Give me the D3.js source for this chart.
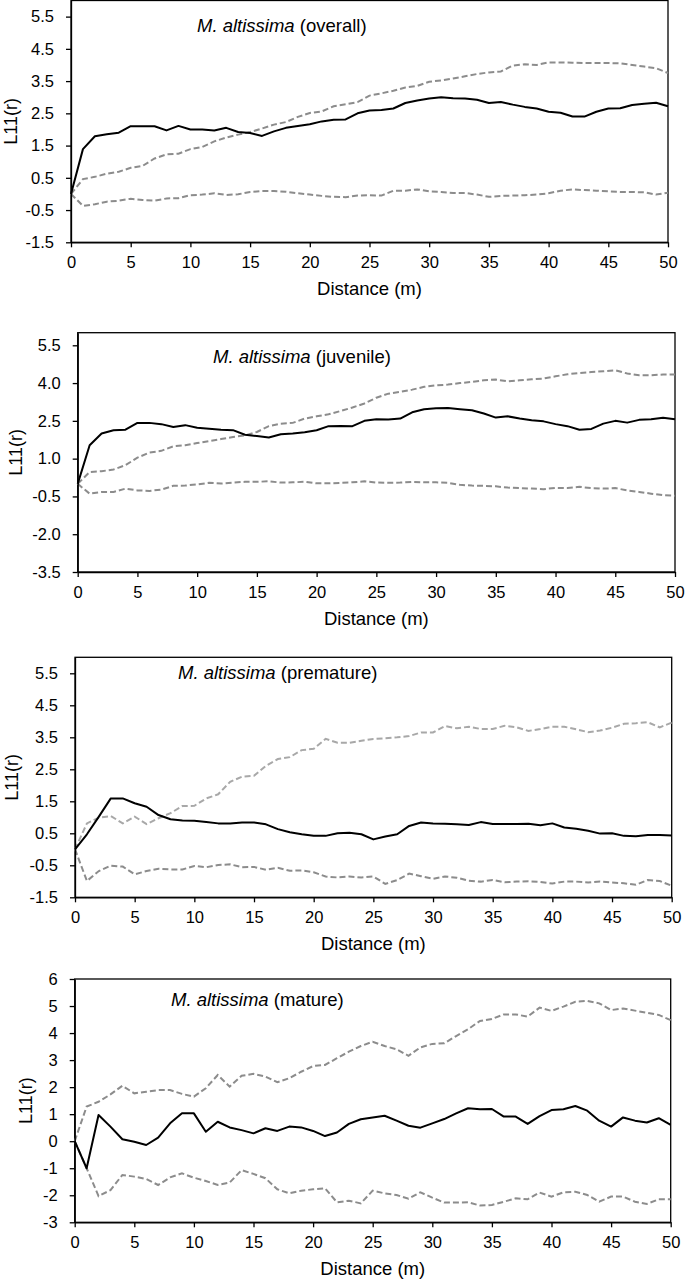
<!DOCTYPE html>
<html>
<head>
<meta charset="utf-8">
<script src="https://cdn.jsdelivr.net/npm/d3@7"></script>
<style>
  body { margin: 0; background: #fff; }
  svg { display: block; font-family: "Liberation Sans", Arial, sans-serif; }
</style>
</head>
<body>
<svg></svg>
<script>
let distance = [0,1,2,3,4,5,6,7,8,9,10,11,12,13,14,15,16,17,18,19,20,21,22,23,24,25,
  26,27,28,29,30,31,32,33,34,35,36,37,38,39,40,41,42,43,44,45,46,47,48,49,50];
let xTicks = [0,5,10,15,20,25,30,35,40,45,50];

// overall
let overallObs = [0,1.39,1.79,1.85,1.9,2.1,2.1,2.1,1.97,2.11,2.0,2.0,1.97,2.05,1.92,1.89,1.8,1.94,2.05,2.11,2.16,2.25,2.3,2.31,
  2.5,2.59,2.6,2.65,2.82,2.9,2.96,3.0,2.97,2.96,2.92,2.82,2.85,2.77,2.7,2.65,2.55,2.52,2.4,2.4,2.55,2.65,2.66,2.76,2.8,2.83,2.72];
let overallUpper = [0,0.46,0.53,0.63,0.69,0.81,0.87,1.1,1.23,1.25,1.39,1.46,1.63,1.75,1.84,1.92,2.03,2.15,2.23,2.39,2.51,2.56,2.72,2.78,
  2.85,3.05,3.12,3.2,3.3,3.35,3.48,3.52,3.58,3.65,3.72,3.77,3.8,3.98,4.02,4.0,4.08,4.08,4.07,4.06,4.06,4.06,4.05,4.0,3.95,3.9,3.75];
let overallLower = [0,-0.37,-0.32,-0.24,-0.21,-0.15,-0.19,-0.21,-0.14,-0.13,-0.04,-0.02,0.02,-0.03,-0.01,0.06,0.09,0.09,0.07,0.02,-0.02,-0.06,-0.09,-0.1,
  -0.05,-0.04,-0.05,0.1,0.1,0.14,0.08,0.06,0.03,0.03,-0.02,-0.09,-0.06,-0.05,-0.04,-0.02,0.02,0.1,0.14,0.12,0.1,0.08,0.06,0.06,0.05,-0.02,0.04];
let overallTicks = [-1.5,-0.5,0.5,1.5,2.5,3.5,4.5,5.5];

// juvenile
let juvenileObs = [0,1.53,2.0,2.13,2.15,2.42,2.42,2.37,2.26,2.33,2.23,2.19,2.15,2.13,1.95,1.9,1.84,1.97,2.0,2.05,2.13,2.29,2.3,2.29,
  2.5,2.56,2.55,2.59,2.84,2.96,3.0,3.01,2.96,2.92,2.79,2.63,2.68,2.59,2.52,2.48,2.37,2.29,2.15,2.18,2.39,2.5,2.43,2.54,2.56,2.62,2.56];
let juvenileUpper = [0,0.47,0.5,0.57,0.74,1.04,1.24,1.31,1.49,1.53,1.62,1.7,1.78,1.86,1.92,2.06,2.29,2.39,2.42,2.59,2.68,2.76,2.89,3.03,
  3.19,3.42,3.58,3.65,3.74,3.85,3.91,3.94,4.0,4.05,4.11,4.14,4.07,4.11,4.15,4.18,4.27,4.35,4.4,4.44,4.47,4.51,4.38,4.31,4.31,4.34,4.34];
let juvenileLower = [0,-0.39,-0.32,-0.32,-0.19,-0.26,-0.28,-0.23,-0.08,-0.07,-0.02,0.04,0.01,0.05,0.08,0.08,0.1,0.05,0.06,0.08,0.02,0.02,0.04,0.06,
  0.1,0.05,0.04,0.05,0.08,0.06,0.06,0.04,-0.04,-0.07,-0.08,-0.1,-0.15,-0.17,-0.19,-0.21,-0.16,-0.17,-0.12,-0.17,-0.19,-0.17,-0.26,-0.32,-0.39,-0.45,-0.47];
let juvenileTicks = [-3.5,-2.0,-0.5,1.0,2.5,4.0,5.5];

// premature
let prematureObs = [0,0.47,1.02,1.59,1.59,1.44,1.33,1.07,0.94,0.9,0.89,0.85,0.81,0.81,0.84,0.84,0.78,0.63,0.53,0.47,0.42,0.42,0.5,0.52,
  0.47,0.31,0.4,0.47,0.73,0.84,0.81,0.8,0.78,0.76,0.85,0.79,0.79,0.79,0.8,0.75,0.81,0.68,0.64,0.58,0.49,0.5,0.42,0.41,0.45,0.45,0.43];
let prematureUpper = [0,0.81,0.99,1.04,0.81,1.02,0.79,0.97,1.13,1.35,1.36,1.59,1.72,2.11,2.27,2.3,2.61,2.82,2.88,3.1,3.14,3.45,3.33,3.33,
  3.39,3.45,3.47,3.5,3.54,3.65,3.65,3.85,3.78,3.83,3.76,3.76,3.86,3.81,3.7,3.76,3.83,3.83,3.75,3.66,3.71,3.8,3.92,3.94,3.97,3.81,3.96];
let prematureLower = [0,-0.99,-0.68,-0.51,-0.54,-0.78,-0.68,-0.61,-0.63,-0.63,-0.52,-0.56,-0.49,-0.47,-0.56,-0.55,-0.64,-0.58,-0.67,-0.66,-0.72,-0.85,-0.88,-0.85,
  -0.88,-0.85,-1.08,-0.96,-0.76,-0.84,-0.92,-0.85,-0.89,-0.98,-1.01,-0.96,-1.03,-1.01,-1.0,-1.02,-1.07,-1.01,-1.01,-1.04,-1.01,-1.04,-1.06,-1.11,-0.96,-0.99,-1.14];
let prematureTicks = [-1.5,-0.5,0.5,1.5,2.5,3.5,4.5,5.5];

// mature
let matureObs = [0,-1.0,0.97,0.54,0.07,-0.02,-0.14,0.13,0.66,1.03,1.03,0.35,0.72,0.51,0.41,0.29,0.48,0.38,0.54,0.51,0.38,0.19,0.32,0.64,
  0.81,0.88,0.94,0.76,0.57,0.5,0.66,0.82,1.03,1.22,1.18,1.19,0.91,0.91,0.64,0.93,1.15,1.18,1.3,1.13,0.76,0.54,0.88,0.76,0.69,0.85,0.6];
let matureUpper = [0,1.28,1.46,1.73,2.05,1.77,1.83,1.89,1.89,1.75,1.65,1.96,2.45,2.02,2.42,2.49,2.39,2.18,2.33,2.57,2.78,2.82,3.07,3.31,
  3.52,3.68,3.52,3.4,3.16,3.47,3.6,3.62,3.89,4.14,4.45,4.52,4.69,4.69,4.61,4.94,4.82,4.98,5.16,5.19,5.1,4.85,4.91,4.83,4.75,4.67,4.48];
let matureLower = [0,-1.0,-2.03,-1.81,-1.25,-1.31,-1.4,-1.62,-1.34,-1.19,-1.35,-1.47,-1.62,-1.53,-1.07,-1.21,-1.37,-1.78,-1.93,-1.83,-1.78,-1.74,-2.26,-2.2,
  -2.3,-1.83,-1.93,-1.99,-2.13,-1.89,-2.09,-2.27,-2.27,-2.26,-2.38,-2.36,-2.24,-2.11,-2.15,-1.9,-2.05,-1.89,-1.87,-1.99,-2.24,-2.05,-2.05,-2.24,-2.32,-2.15,-2.15];
let matureTicks = [-3,-2,-1,0,1,2,3,4,5,6];

let w = 685;
let h = 1282;

// plain hyphen for negatives, like the original
let locale = d3.formatLocale({ decimal: '.', thousands: ',', grouping: [3], currency: ['', ''], minus: '-' });

// layout of each panel (pixels)
let panels = [
  { stage: '(overall)', obs: overallObs, upper: overallUpper, lower: overallLower, ticks: overallTicks,
    ymin: -1.5, ymax: 6, fmt: '.1f', left: 71, right: 668, top: 0.5, bottom: 242.3,
    titleX: 197, titleY: 32, labX: 11, upperCol: '#8c8c8c' },
  { stage: '(juvenile)', obs: juvenileObs, upper: juvenileUpper, lower: juvenileLower, ticks: juvenileTicks,
    ymin: -3.5, ymax: 6, fmt: '.1f', left: 77.7, right: 675, top: 332.7, bottom: 572,
    titleX: 213, titleY: 363, labX: 16, upperCol: '#8c8c8c' },
  { stage: '(premature)', obs: prematureObs, upper: prematureUpper, lower: prematureLower, ticks: prematureTicks,
    ymin: -1.5, ymax: 6, fmt: '.1f', left: 75, right: 671.7, top: 657.3, bottom: 897.3,
    titleX: 178, titleY: 679, labX: 12, upperCol: '#a8a8a8' },
  { stage: '(mature)', obs: matureObs, upper: matureUpper, lower: matureLower, ticks: matureTicks,
    ymin: -3, ymax: 6, fmt: 'd', left: 74.7, right: 670.7, top: 979, bottom: 1222.3,
    titleX: 171, titleY: 1006, labX: 26, upperCol: '#8c8c8c' }
];

let svg = d3.select('svg')
            .attr('width', w)
            .attr('height', h);

let drawPanel = (p) => {
  let g = svg.append('g');

  let xScale = d3.scaleLinear()
                 .domain([0, 50])
                 .range([p.left, p.right]);
  let yScale = d3.scaleLinear()
                 .domain([p.ymin, p.ymax])
                 .range([p.bottom, p.top]);

  // frame (top + right), axes cover left + bottom
  g.append('rect')
   .attr('x', p.left)
   .attr('y', p.top)
   .attr('width', p.right - p.left)
   .attr('height', p.bottom - p.top)
   .attr('fill', 'none')
   .attr('stroke', '#000')
   .attr('stroke-width', 1.3);

  let line = d3.line()
               .x((d, i) => xScale(distance[i]))
               .y(d => yScale(d));

  g.append('path')
   .attr('d', line(p.lower))
   .attr('fill', 'none')
   .attr('stroke', '#8c8c8c')
   .attr('stroke-width', 2)
   .attr('stroke-dasharray', '6,3');

  g.append('path')
   .attr('d', line(p.upper))
   .attr('fill', 'none')
   .attr('stroke', p.upperCol)
   .attr('stroke-width', 2)
   .attr('stroke-dasharray', '6,3');

  g.append('path')
   .attr('d', line(p.obs))
   .attr('fill', 'none')
   .attr('stroke', '#000')
   .attr('stroke-width', 2)
   .attr('stroke-linejoin', 'round');

  let xAxis = d3.axisBottom(xScale)
                .tickValues(xTicks)
                .tickSize(5)
                .tickSizeOuter(0)
                .tickPadding(9);
  let yAxis = d3.axisLeft(yScale)
                .tickValues(p.ticks)
                .tickFormat(locale.format(p.fmt))
                .tickSize(5)
                .tickSizeOuter(0)
                .tickPadding(12);

  let gx = g.append('g')
            .attr('transform', 'translate(0, ' + p.bottom + ')')
            .call(xAxis);
  let gy = g.append('g')
            .attr('transform', 'translate(' + p.left + ', 0)')
            .call(yAxis);

  [gx, gy].forEach(a => {
    a.select('.domain').attr('stroke', '#000').attr('stroke-width', 1.3);
    a.selectAll('.tick line').attr('stroke', '#000').attr('stroke-width', 1.3);
    a.selectAll('.tick text')
     .attr('fill', '#000')
     .style('font-size', '16.5px')
     .style('font-family', '"Liberation Sans", Arial, sans-serif');
  });

  g.append('text')
   .attr('x', (p.left + p.right) / 2)
   .attr('y', p.bottom + 53)
   .attr('text-anchor', 'middle')
   .style('font-size', '18.5px')
   .text('Distance (m)');

  g.append('text')
   .attr('transform', 'translate(' + p.labX + ', ' + ((p.top + p.bottom) / 2) + ') rotate(-90)')
   .attr('text-anchor', 'middle')
   .attr('dy', '0.35em')
   .style('font-size', '18px')
   .text('L11(r)');

  let title = g.append('text')
               .attr('x', p.titleX)
               .attr('y', p.titleY)
               .style('font-size', '18.5px');
  title.append('tspan')
       .style('font-style', 'italic')
       .text('M. altissima');
  title.append('tspan')
       .text(' ' + p.stage);
};

panels.forEach(drawPanel);
</script>
</body>
</html>
